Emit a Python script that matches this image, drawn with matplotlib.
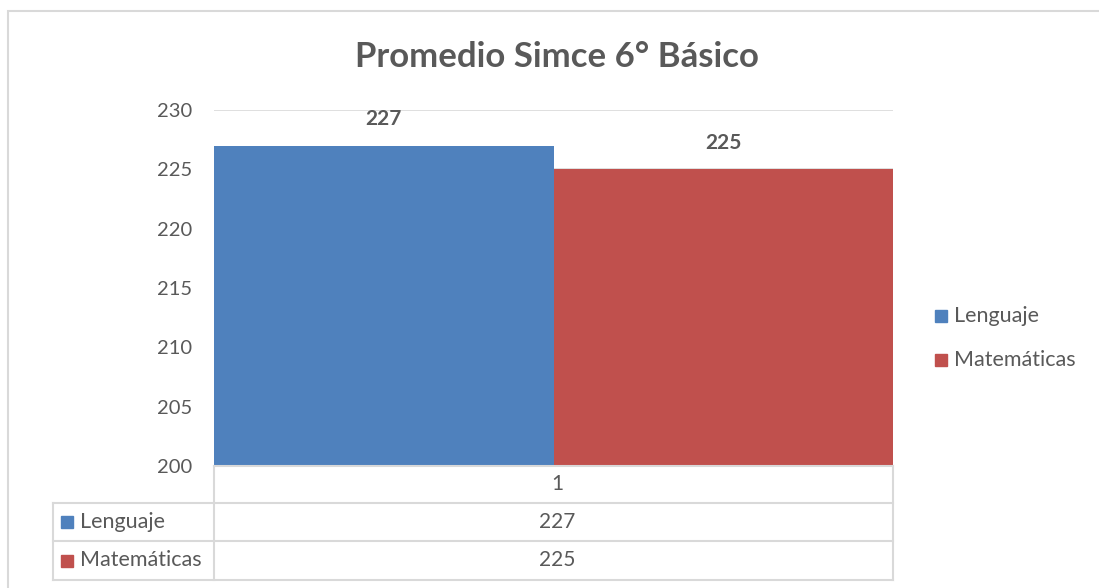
import matplotlib.pyplot as plt
from matplotlib.patches import Rectangle
from matplotlib.lines import Line2D

plt.rcParams['font.family'] = ['Lato', 'DejaVu Sans']

title = "Promedio Simce 6° Básico"
series = ["Lenguaje", "Matemáticas"]
values = [227, 225]
colors = ["#4f81bd", "#c0504d"]
category = "1"
yticks = [200, 205, 210, 215, 220, 225, 230]

txt = "#595959"
grid = "#d9d9d9"
W, H = 1099, 588

fig = plt.figure(figsize=(W / 100, H / 100), dpi=100)

def fx(px):
    return px / W

def fy(py):
    return 1 - py / H

# outer chart border
fig.add_artist(Rectangle((fx(8), fy(600)), fx(1100), fy(11) - fy(600),
                         transform=fig.transFigure, fill=False,
                         edgecolor=grid, lw=1.5))

left, right, top, bottom = 214, 893, 110, 466
ax = fig.add_axes([fx(left), fy(bottom), fx(right - left), fy(top) - fy(bottom)])
ax.set_ylim(200, 230)
ax.set_xlim(-0.5, 1.5)
ax.set_yticks(yticks)
ax.yaxis.grid(True, color=grid, lw=1.2)
ax.set_axisbelow(True)
ax.tick_params(axis="y", length=0, labelsize=14.5, labelcolor=txt, pad=16)
ax.set_xticks([])
for s in ax.spines.values():
    s.set_visible(False)

x = range(len(values))
ax.bar(x, [v - 200 for v in values], bottom=200, width=1.0, color=colors)
for xi, v in zip(x, values):
    ax.text(xi, v + 1.4, f"{v}", ha="center", va="bottom",
            fontsize=15, fontweight="bold", color=txt)

fig.text(fx(557), fy(57), title, ha="center", va="center",
         fontsize=25, fontweight="bold", color=txt)

# legend
for i, (name, c) in enumerate(zip(series, colors)):
    yy = 316 + i * 44
    fig.add_artist(Rectangle((fx(935), fy(yy + 6)), fx(12), fy(yy - 6) - fy(yy + 6),
                             transform=fig.transFigure, color=c))
    fig.text(fx(954), fy(yy), name, ha="left", va="center", fontsize=15.5, color=txt)

# data table
def hline(y, x0, x1):
    fig.add_artist(Line2D([fx(x0), fx(x1)], [fy(y), fy(y)], color=grid, lw=1.5))

def vline(xp, y0, y1):
    fig.add_artist(Line2D([fx(xp), fx(xp)], [fy(y0), fy(y1)], color=grid, lw=1.5))

rows = [466, 503, 541, 580]
hline(rows[0], left, right)
for r in rows[1:]:
    hline(r, 53, right)
vline(left, rows[0], rows[-1])
vline(right, rows[0], rows[-1])
vline(53, rows[1], rows[-1])

fig.text(fx(557), fy((rows[0] + rows[1]) / 2), category, ha="center", va="center",
         fontsize=15, color=txt)
for i, (name, c, v) in enumerate(zip(series, colors, values)):
    yc = (rows[i + 1] + rows[i + 2]) / 2
    fig.add_artist(Rectangle((fx(61), fy(yc + 6)), fx(12), fy(yc - 6) - fy(yc + 6),
                             transform=fig.transFigure, color=c))
    fig.text(fx(80), fy(yc), name, ha="left", va="center", fontsize=15.5, color=txt)
    fig.text(fx(557), fy(yc), f"{v}", ha="center", va="center", fontsize=15, color=txt)

fig.savefig("out.png", dpi=100)
